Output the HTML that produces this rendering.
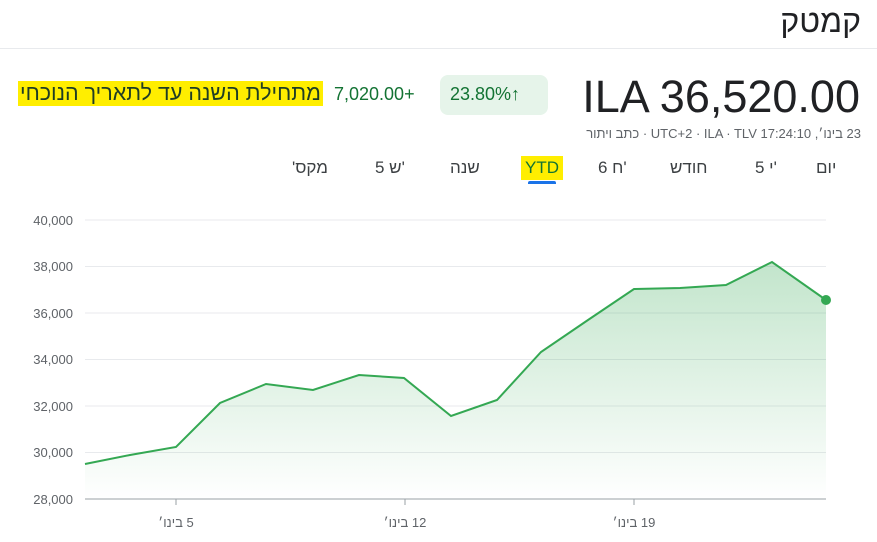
<!DOCTYPE html>
<html><head><meta charset="utf-8"><style>
body{margin:0;width:877px;height:542px;background:#fff;font-family:"Liberation Sans","Noto Sans CJK SC",sans-serif;position:relative;overflow:hidden}
.a{position:absolute;white-space:nowrap}
.r{direction:rtl;unicode-bidi:isolate;display:inline-block}
.v{unicode-bidi:bidi-override;direction:ltr}
</style></head><body>
<div class="a" style="right:16px;top:3px;font-size:32px;color:#202124">קמטק</div>
<div class="a" style="left:0;right:0;top:48px;height:1px;background:#e8eaed"></div>
<div class="a" style="right:17px;top:71px;font-size:45px;color:#202124">ILA 36,520.00</div>
<div class="a" style="left:440px;top:75px;width:108px;height:40px;background:#e6f4ea;border-radius:8px"></div>
<div class="a" style="left:450px;top:84px;font-size:18px;color:#137333">23.80%↑</div>
<div class="a" style="left:334px;top:84px;font-size:18px;color:#137333">7,020.00+</div>
<div class="a r" style="left:18px;top:81px;font-size:21.5px;color:#1f3d24;background:#ffee00;padding:0 2px">מתחילת השנה עד לתאריך הנוכחי</div>
<div class="a" style="right:16px;top:126px;font-size:13px;color:#5f6368"><span class="r">כתב ויתור</span> · UTC+2 · ILA · TLV 17:24:10 <span class="r">23 בינו׳,</span></div>
<div class="a r" style="left:816px;top:158px;font-size:17px;color:#3c4043">יום</div>
<div class="a v" style="left:755px;top:158px;font-size:17px;color:#3c4043">5 י'</div>
<div class="a r" style="left:670px;top:158px;font-size:17px;color:#3c4043">חודש</div>
<div class="a v" style="left:598px;top:158px;font-size:17px;color:#3c4043">6 ח'</div>
<div class="a" style="left:521px;top:156px;font-size:17px;color:#137333;background:#ffee00;padding:2px 4px">YTD</div>
<div class="a" style="left:528px;top:181px;width:28px;height:3px;background:#1a73e8;border-radius:2px 2px 0 0"></div>
<div class="a r" style="left:450px;top:158px;font-size:17px;color:#3c4043">שנה</div>
<div class="a v" style="left:375px;top:158px;font-size:17px;color:#3c4043">5 ש'</div>
<div class="a r" style="left:292px;top:158px;font-size:17px;color:#3c4043">מקס'</div>
<svg class="a" style="left:0;top:0" width="877" height="542">
<defs><linearGradient id="g" x1="0" y1="0" x2="0" y2="1"><stop offset="0" stop-color="#34a853" stop-opacity="0.3"/><stop offset="1" stop-color="#34a853" stop-opacity="0"/></linearGradient></defs>
<g stroke="#e8eaed" stroke-width="1">
<line x1="85" x2="826" y1="220" y2="220"/><line x1="85" x2="826" y1="266.5" y2="266.5"/><line x1="85" x2="826" y1="313" y2="313"/><line x1="85" x2="826" y1="359.5" y2="359.5"/><line x1="85" x2="826" y1="406" y2="406"/><line x1="85" x2="826" y1="452.5" y2="452.5"/></g>
<line x1="85" x2="826" y1="499" y2="499" stroke="#9aa0a6"/>
<g stroke="#9aa0a6"><line x1="176" x2="176" y1="499" y2="505"/><line x1="405" x2="405" y1="499" y2="505"/><line x1="634" x2="634" y1="499" y2="505"/></g>
<g font-size="13" fill="#5f6368" text-anchor="end">
<text x="73" y="225">40,000</text><text x="73" y="271">38,000</text><text x="73" y="318">36,000</text><text x="73" y="364">34,000</text><text x="73" y="411">32,000</text><text x="73" y="457">30,000</text><text x="73" y="504">28,000</text></g>
<g font-size="13" fill="#5f6368" text-anchor="middle" direction="rtl">
<text x="176" y="527">5 בינו׳</text><text x="405" y="527">12 בינו׳</text><text x="634" y="527">19 בינו׳</text></g>
<path d="M85,464 L130,455 176,447 220,403 266,384 313,390 359,375 404,378 451,416 497,400 541,352 588,320 634,289 680,288 726,285 772,262 826,300 L826,499 L85,499Z" fill="url(#g)"/>
<polyline fill="none" stroke="#34a853" stroke-width="2" points="85,464 130,455 176,447 220,403 266,384 313,390 359,375 404,378 451,416 497,400 541,352 588,320 634,289 680,288 726,285 772,262 826,300"/>
<circle cx="826" cy="300" r="5" fill="#34a853"/>
</svg>
</body></html>
